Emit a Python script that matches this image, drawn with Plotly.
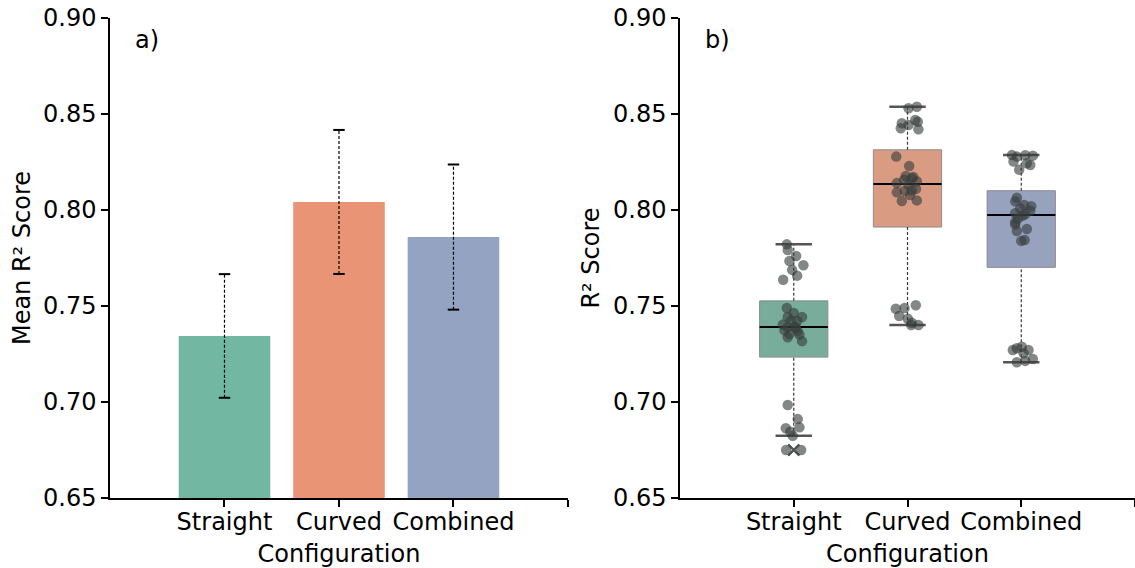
import numpy as np
import plotly.graph_objects as go

# ---------------- data ----------------
categories = ["Straight", "Curved", "Combined"]
bar_means = [0.7344, 0.8042, 0.7859]
bar_sds = [0.0322, 0.0375, 0.0378]

straight_scores = [0.6750, 0.6750, 0.6824, 0.6845, 0.6863, 0.6868, 0.6911, 0.6984,
                   0.7317, 0.7337, 0.7351, 0.7354, 0.7368, 0.7373, 0.7385, 0.7390,
                   0.7392, 0.7403, 0.7423, 0.7423, 0.7443, 0.7443, 0.7464, 0.7490,
                   0.7637, 0.7658, 0.7688, 0.7712, 0.7734, 0.7760, 0.7792, 0.7821]
straight_jitter = [-0.067, 0.065, -0.009, -0.030, -0.070, 0.050, 0.035, -0.053,
                   0.073, -0.053, 0.050, -0.038, 0.035, -0.081, 0.020, -0.053,
                   0.010, -0.096, 0.030, -0.023, -0.053, 0.073, 0.000, -0.061,
                   -0.093, 0.030, -0.014, 0.085, -0.038, 0.021, -0.053, -0.061]

curved_scores = [0.7401, 0.7401, 0.7413, 0.7434, 0.7448, 0.7486, 0.7490, 0.7504,
                 0.8047, 0.8050, 0.8078, 0.8092, 0.8099, 0.8102, 0.8110, 0.8130,
                 0.8140, 0.8150, 0.8158, 0.8165, 0.8172, 0.8177, 0.8229, 0.8278,
                 0.8420, 0.8426, 0.8443, 0.8452, 0.8460, 0.8469, 0.8530, 0.8538]
curved_jitter = [0.096, 0.032, 0.038, 0.003, -0.073, -0.103, -0.026, 0.073,
                 -0.050, 0.082, 0.023, -0.094, -0.026, 0.038, 0.075, 0.009,
                 -0.094, 0.082, -0.030, 0.038, 0.050, -0.015, 0.015, -0.099,
                 0.096, -0.059, 0.009, -0.050, 0.090, 0.068, 0.009, 0.082]

combined_scores = [0.7207, 0.7214, 0.7224, 0.7254, 0.7271, 0.7271, 0.7280, 0.7288,
                   0.7839, 0.7844, 0.7891, 0.7901, 0.7925, 0.7936, 0.7955, 0.7970,
                   0.7978, 0.7983, 0.7996, 0.8009, 0.8020, 0.8026, 0.8045, 0.8064,
                   0.8210, 0.8234, 0.8243, 0.8252, 0.8278, 0.8283, 0.8285, 0.8286]
combined_jitter = [-0.039, 0.035, 0.102, 0.020, -0.074, 0.064, -0.039, 0.005,
                   0.000, 0.030, -0.039, 0.049, -0.053, -0.053, -0.030, 0.010,
                   0.035, -0.053, 0.079, -0.009, 0.088, 0.026, -0.053, -0.039,
                   -0.018, 0.079, 0.049, -0.068, -0.039, 0.102, 0.035, -0.082]

y_ticks = [0.65, 0.70, 0.75, 0.80, 0.85, 0.90]

# ---------------- styles ----------------
bar_colors = ["#71b7a1", "#e99575", "#95a3c3"]
box_colors = ["#79ad9b", "#d99c83", "#97a2bf"]
point_color = "rgba(55,62,60,0.62)"
FONT = "DejaVu Sans"
FS = 24

groups = [(straight_scores, straight_jitter),
          (curved_scores, curved_jitter),
          (combined_scores, combined_jitter)]

fig = go.Figure()

# ---------------- panel a: bars with dashed sd error bars ----------------
pos = list(range(len(categories)))
fig.add_trace(go.Bar(x=pos, y=bar_means, width=0.8,
                     marker=dict(color=bar_colors, line=dict(width=0)),
                     xaxis="x", yaxis="y", showlegend=False))

ex, ey, cx, cy = [], [], [], []
for i, (m, s) in enumerate(zip(bar_means, bar_sds)):
    ex += [i, i, None]
    ey += [m - s, m + s, None]
    for v in (m - s, m + s):
        cx += [i - 0.05, i + 0.05, None]
        cy += [v, v, None]
fig.add_trace(go.Scatter(x=ex, y=ey, mode="lines",
                         line=dict(color="black", width=1.2, dash="3px,2px"),
                         xaxis="x", yaxis="y", showlegend=False, hoverinfo="skip"))
fig.add_trace(go.Scatter(x=cx, y=cy, mode="lines",
                         line=dict(color="black", width=2),
                         xaxis="x", yaxis="y", showlegend=False, hoverinfo="skip"))

# ---------------- panel b: boxes + strip points ----------------
wx, wy, kx, ky, mx, my, ox, oy = [], [], [], [], [], [], [], []
for i, (vals, jit) in enumerate(groups):
    v = np.array(vals)
    q1, med, q3 = np.percentile(v, [25, 50, 75])
    iqr = q3 - q1
    lo = v[v >= q1 - 1.5 * iqr].min()
    hi = v[v <= q3 + 1.5 * iqr].max()
    outl = v[(v < q1 - 1.5 * iqr) | (v > q3 + 1.5 * iqr)]
    fig.add_trace(go.Box(x=[i], q1=[q1], median=[med], q3=[q3],
                         lowerfence=[q1], upperfence=[q3], width=0.6,
                         whiskerwidth=0,
                         fillcolor=box_colors[i],
                         line=dict(color="#8c8c8c", width=1),
                         xaxis="x2", yaxis="y2", showlegend=False,
                         hoverinfo="skip"))
    wx += [i, i, None, i, i, None]
    wy += [lo, q1, None, q3, hi, None]
    for w in (lo, hi):
        kx += [i - 0.16, i + 0.16, None]
        ky += [w, w, None]
    mx += [i - 0.3, i + 0.3, None]
    my += [med, med, None]
    for o in outl:
        ox.append(i)
        oy.append(o)

fig.add_trace(go.Scatter(x=wx, y=wy, mode="lines",
                         line=dict(color="#3a3a3a", width=1.2, dash="3px,2px"),
                         xaxis="x2", yaxis="y2", showlegend=False, hoverinfo="skip"))
fig.add_trace(go.Scatter(x=kx, y=ky, mode="lines",
                         line=dict(color="#555555", width=2.5),
                         xaxis="x2", yaxis="y2", showlegend=False, hoverinfo="skip"))
fig.add_trace(go.Scatter(x=mx, y=my, mode="lines",
                         line=dict(color="black", width=2),
                         xaxis="x2", yaxis="y2", showlegend=False, hoverinfo="skip"))
fig.add_trace(go.Scatter(x=ox, y=oy, mode="markers",
                         marker=dict(symbol="x-thin", size=11,
                                     line=dict(color="#555555", width=2)),
                         xaxis="x2", yaxis="y2", showlegend=False, hoverinfo="skip"))

for i, (vals, jit) in enumerate(groups):
    fig.add_trace(go.Scatter(x=[i + j for j in jit], y=vals, mode="markers",
                             marker=dict(size=10.5, color=point_color,
                                         line=dict(width=0)),
                             xaxis="x2", yaxis="y2", showlegend=False,
                             hoverinfo="skip"))

# ---------------- layout ----------------
xcommon = dict(range=[-1, 3], tickvals=[0, 1, 2, 3],
               ticktext=categories + [""],
               showline=True, linecolor="black", linewidth=1.5,
               ticks="outside", ticklen=7, tickwidth=1.5, tickcolor="black",
               ticklabelstandoff=-6,
               showgrid=False, zeroline=False,
               tickfont=dict(family=FONT, size=FS, color="black"))
ycommon = dict(range=[0.65, 0.90], tickvals=y_ticks, tickformat=".2f",
               showline=True, linecolor="black", linewidth=1.5,
               ticks="outside", ticklen=7, tickwidth=1.5, tickcolor="black",
               showgrid=False, zeroline=False,
               tickfont=dict(family=FONT, size=FS, color="black"))

fig.update_layout(
    width=1135, height=568,
    margin=dict(l=110, r=0, t=18, b=70),
    paper_bgcolor="white", plot_bgcolor="white",
    font=dict(family=FONT, size=FS, color="black"),
    xaxis=dict(domain=[0, 0.4468], anchor="y",
               title=dict(text="Configuration", standoff=11,
                          font=dict(family=FONT, size=FS)), **xcommon),
    yaxis=dict(domain=[0, 1], anchor="x",
               title=dict(text="Mean R² Score", standoff=6,
                          font=dict(family=FONT, size=FS)), **ycommon),
    xaxis2=dict(domain=[0.5561, 1.0], anchor="y2",
                title=dict(text="Configuration", standoff=11,
                           font=dict(family=FONT, size=FS)), **xcommon),
    yaxis2=dict(domain=[0, 1], anchor="x2",
                title=dict(text="R² Score", standoff=7,
                           font=dict(family=FONT, size=FS)), **ycommon),
    annotations=[
        dict(text="a)", xref="x domain", yref="y domain", x=0.05, y=0.955,
             xanchor="left", yanchor="middle", showarrow=False,
             font=dict(family=FONT, size=FS, color="black")),
        dict(text="b)", xref="x2 domain", yref="y2 domain", x=0.05, y=0.955,
             xanchor="left", yanchor="middle", showarrow=False,
             font=dict(family=FONT, size=FS, color="black")),
    ],
)

fig.write_html("out.html")
